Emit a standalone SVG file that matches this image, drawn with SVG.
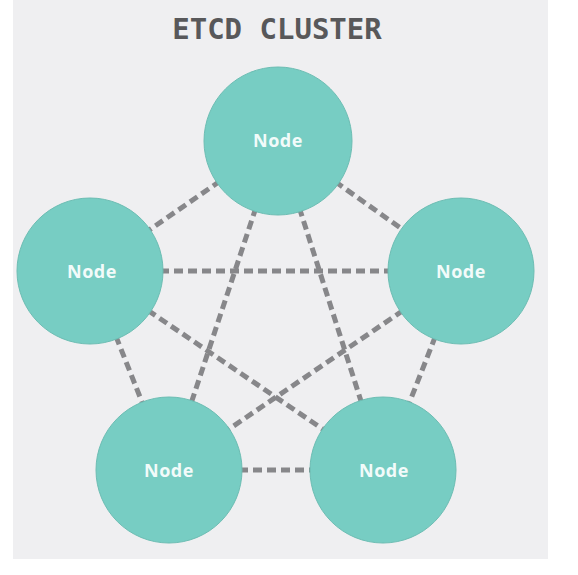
<svg xmlns="http://www.w3.org/2000/svg" width="578" height="575" viewBox="0 0 578 575">
<style>
.conn line{stroke:#87878a;stroke-width:5;stroke-dasharray:9 5;fill:none}
.node circle{fill:#77cdc3;stroke:#6cbdb3;stroke-width:1}
.node text{font-family:"Open Sans","DejaVu Sans",sans-serif;font-weight:700;font-size:18px;fill:#f2fbfa;text-anchor:middle;letter-spacing:0.5px}
.title{font-family:"DejaVu Sans Mono","Liberation Mono",monospace;font-weight:700;font-size:29px;fill:#58585a;text-anchor:middle}
</style>
<rect x="0" y="0" width="578" height="575" fill="#ffffff"/>
<rect x="13" y="0" width="535" height="559" fill="#efeff1"/>
<text class="title" x="277" y="39">ETCD CLUSTER</text>
<g id="connectors" class="conn">
<line x1="278" y1="141" x2="90" y2="271"/>
<line x1="278" y1="141" x2="461" y2="271"/>
<line x1="278" y1="141" x2="169" y2="470"/>
<line x1="278" y1="141" x2="383" y2="470"/>
<line x1="90" y1="271" x2="461" y2="271"/>
<line x1="90" y1="271" x2="169" y2="470"/>
<line x1="90" y1="271" x2="383" y2="470"/>
<line x1="461" y1="271" x2="383" y2="470"/>
<line x1="461" y1="271" x2="169" y2="470"/>
<line x1="169" y1="470" x2="383" y2="470"/>
</g>
<g id="node-top" class="node"><circle cx="278" cy="141" r="74"/><text x="278" y="147">Node</text></g>
<g id="node-left" class="node"><circle cx="90" cy="271" r="73"/><text x="92" y="278">Node</text></g>
<g id="node-right" class="node"><circle cx="461" cy="271" r="73"/><text x="461" y="278">Node</text></g>
<g id="node-bottom-left" class="node"><circle cx="169" cy="470" r="73"/><text x="169" y="477">Node</text></g>
<g id="node-bottom-right" class="node"><circle cx="383" cy="470" r="73"/><text x="384" y="477">Node</text></g>
</svg>
